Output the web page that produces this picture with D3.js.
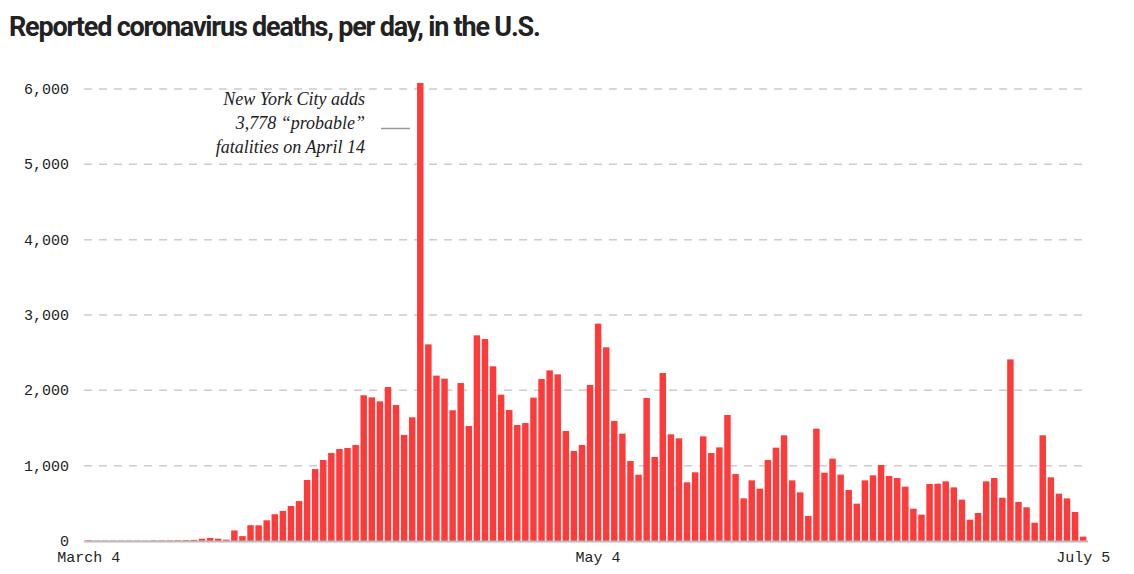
<!DOCTYPE html>
<html><head><meta charset="utf-8">
<script src="https://cdn.jsdelivr.net/npm/d3@7"></script>
<style>body{margin:0;background:#fff}</style>
</head><body><div id="root"></div>
<script>
// daily reported deaths, one bar per day (March 4 .. July 5)
var deaths = [10,5,5,5,5,5,5,5,8,8,8,10,12,15,30,40,30,18,140,65,210,208,275,355,400,465,530,810,955,1075,1168,1221,1235,1274,1934,1907,1854,2044,1805,1407,1642,6080,2610,2195,
  2155,1735,2097,1527,2730,2681,2319,1942,1739,1540,1566,1903,2150,2265,2212,1460,1195,1274,2071,2885,2571,1593,1425,1062,880,1898,1115,2230,1416,1363,779,912,1389,1168,1243,1673,889,566,805,695,
  1075,1239,1403,805,646,332,1491,907,1093,881,677,496,805,872,1009,863,836,721,429,350,757,761,792,712,549,283,372,792,836,575,2411,518,447,243,1403,845,628,566,385,58];
var tickIndex = [0, 63, 123];
var tickLabels = ["March 4", "May 4", "July 5"];
var yTicks = [0, 1000, 2000, 3000, 4000, 5000, 6000];
var noteLines = ["New York City adds", "3,778 \u201cprobable\u201d", "fatalities on April 14"];

var W = 1134, H = 574;
var svg = d3.select("#root").append("svg").attr("width", W).attr("height", H);

svg.append("text").attr("x", 9).attr("y", 36)
  .style("font-family", "Roboto").style("font-weight", "bold").style("font-size", "27px")
  .style("letter-spacing", "-1.2px").attr("fill", "#222")
  .text("Reported coronavirus deaths, per day, in the U.S.");

var x = d3.scaleBand().domain(d3.range(deaths.length)).range([84, 1088]).padding(0.2);
var y = d3.scaleLinear().domain([0, 6000]).range([541, 89]);

// gridlines + y labels
var yg = svg.append("g");
yg.selectAll("line").data(yTicks.filter(d => d > 0)).join("line")
  .attr("x1", 84).attr("x2", 1084).attr("y1", d => y(d)).attr("y2", d => y(d))
  .attr("stroke", "#ccc").attr("stroke-width", 1.5).attr("stroke-dasharray", "8,7");
yg.selectAll("text").data(yTicks).join("text")
  .attr("x", 69).attr("y", d => y(d) + 5).attr("text-anchor", "end")
  .style("font-family", "Liberation Mono").style("font-size", "15px").attr("fill", "#222")
  .text(d => d3.format(",")(d));

svg.append("g").selectAll("rect").data(deaths).join("rect")
  .attr("x", (d, i) => x(i)).attr("width", x.bandwidth())
  .attr("y", d => y(d)).attr("height", d => y(0) - y(d))
  .attr("fill", "#fd3b3b");

svg.append("line").attr("x1", 84).attr("x2", 1088).attr("y1", 541.5).attr("y2", 541.5)
  .attr("stroke", "#bbb").attr("stroke-width", 2);

svg.append("g").selectAll("text").data(tickIndex).join("text")
  .attr("x", d => x(d) + x.bandwidth() / 2).attr("y", 562).attr("text-anchor", "middle")
  .style("font-family", "Liberation Mono").style("font-size", "15px").attr("fill", "#222")
  .text((d, i) => tickLabels[i]);

// annotation
svg.append("g").selectAll("text").data(noteLines).join("text")
  .attr("x", 365).attr("y", (d, i) => 105 + i * 24).attr("text-anchor", "end")
  .style("font-family", "Liberation Serif").style("font-style", "italic").style("font-size", "18px")
  .attr("fill", "#222").text(d => d);
svg.append("line").attr("x1", 381).attr("x2", 410).attr("y1", 128.5).attr("y2", 128.5)
  .attr("stroke", "#999").attr("stroke-width", 1.5);
</script></body></html>
